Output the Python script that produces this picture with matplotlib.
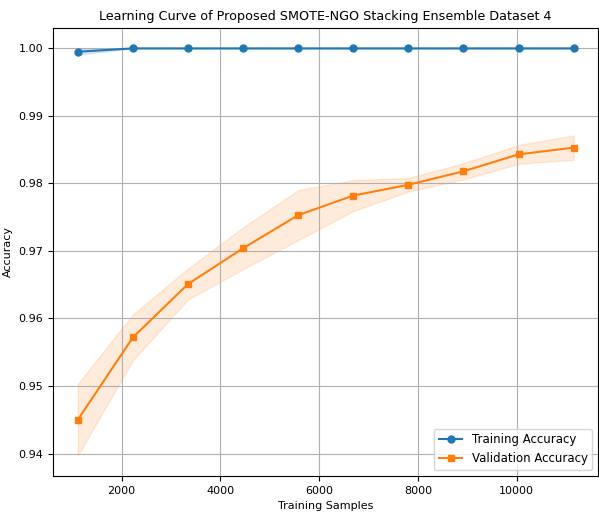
import numpy as np
import matplotlib
matplotlib.use("Agg")
import matplotlib.pyplot as plt

# learning curve values
train_sizes = [1115, 2230, 3345, 4460, 5575, 6690, 7805, 8920, 10035, 11150]
train_mean = [0.9995, 1.0, 1.0, 1.0, 1.0, 1.0, 1.0, 1.0, 1.0, 1.0]
train_std = [0.0004, 0, 0, 0, 0, 0, 0, 0, 0, 0]
val_mean = [0.9450, 0.9572, 0.9651, 0.9704, 0.9753, 0.9782, 0.9798, 0.9818, 0.9843, 0.9853]
val_std = [0.0053, 0.0034, 0.0023, 0.0031, 0.0037, 0.0023, 0.0010, 0.0012, 0.0014, 0.0018]

train_mean = np.array(train_mean)
train_std = np.array(train_std)
val_mean = np.array(val_mean)
val_std = np.array(val_std)

fig, ax = plt.subplots(figsize=(5.99, 5.19), dpi=100)
ax.plot(train_sizes, train_mean, 'o-', color='tab:blue', label='Training Accuracy', markersize=5)
ax.fill_between(train_sizes, train_mean - train_std, train_mean + train_std, color='tab:blue', alpha=0.15)
ax.plot(train_sizes, val_mean, 's-', color='tab:orange', label='Validation Accuracy', markersize=5)
ax.fill_between(train_sizes, val_mean - val_std, val_mean + val_std, color='tab:orange', alpha=0.15)

ax.set_title('Learning Curve of Proposed SMOTE-NGO Stacking Ensemble Dataset 4', fontsize=9.2)
ax.set_xlabel('Training Samples', fontsize=8)
ax.set_ylabel('Accuracy', fontsize=8)
ax.tick_params(labelsize=8)
ax.grid(True)
ax.legend(loc='lower right', fontsize=8.5)

plt.subplots_adjust(left=0.0885, right=0.999, top=0.946, bottom=0.083)
plt.savefig('out.png', dpi=100)
